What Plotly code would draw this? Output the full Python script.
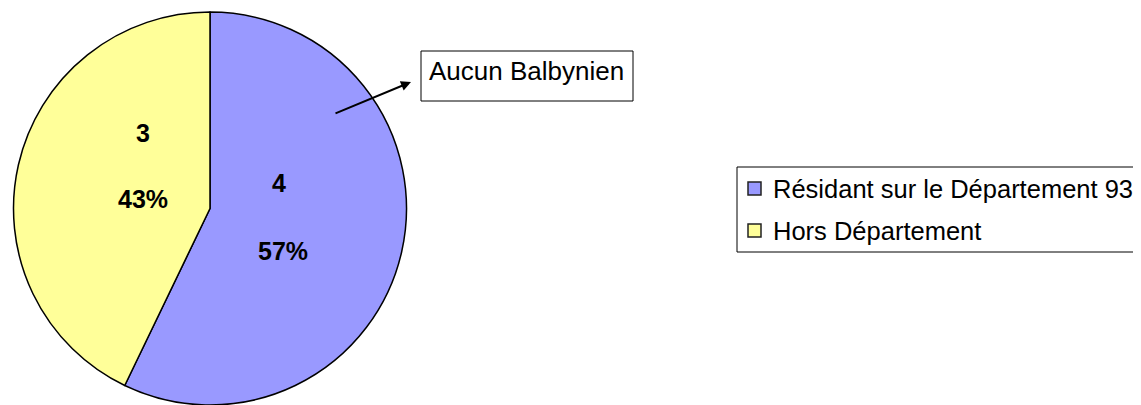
import plotly.graph_objects as go

# data
labels = ["Résidant sur le Département 93", "Hors Département"]
values = [4, 3]
colors = ["#9999FF", "#FFFF99"]
callout_text = "Aucun Balbynien"

# the page body adds an 8px margin, so the figure is shrunk and shifted by that
OFF = 8
W, H = 1141 - OFF, 405 - OFF
FONT = "Liberation Sans, Arial, sans-serif"


def px(x, y):
    # screen pixel position -> paper coordinates
    return (x - OFF) / W, 1 - (y - OFF) / H


fig = go.Figure(
    go.Pie(
        labels=labels,
        values=values,
        marker=dict(colors=colors, line=dict(color="black", width=1.5)),
        sort=False,
        direction="clockwise",
        rotation=0,
        textinfo="none",
        hoverinfo="label+value+percent",
        showlegend=False,
        domain=dict(x=[(12 - OFF) / W, (408 - OFF) / W], y=[0, 1 - (12 - OFF) / H]),
    )
)

total = sum(values)
annotations = []
shapes = []

# slice labels: value on top, percentage below
label_pos = [((279, 183), (283, 251)), ((143, 133), (143, 199))]
for v, ((x1, y1), (x2, y2)) in zip(values, label_pos):
    for txt, (x, y) in ((str(v), (x1, y1)), (f"{round(100 * v / total)}%", (x2, y2))):
        ax_, ay_ = px(x, y)
        annotations.append(dict(
            x=ax_, y=ay_, xref="paper", yref="paper", text=f"<b>{txt}</b>",
            showarrow=False, font=dict(family=FONT, size=25, color="black"),
            xanchor="center", yanchor="middle",
        ))

# callout box with arrow
x0, y0 = px(421, 51)
x1, y1 = px(633, 101)
shapes.append(dict(type="rect", xref="paper", yref="paper", x0=x0, y0=y0, x1=x1, y1=y1,
                   line=dict(color="black", width=1), fillcolor="white"))
tx, ty = px(427, 71)
annotations.append(dict(x=tx, y=ty, xref="paper", yref="paper", text=callout_text,
                        showarrow=False, xanchor="left", yanchor="middle",
                        font=dict(family=FONT, size=26, color="black")))
hx, hy = px(411, 82)
annotations.append(dict(x=hx, y=hy, xref="paper", yref="paper", text="",
                        showarrow=True, ax=334 - 411, ay=114 - 82,
                        arrowhead=2, arrowsize=1, arrowwidth=2, arrowcolor="black",
                        standoff=0))

# legend drawn by hand so the spacing matches
lx0, ly0 = px(737, 167)
lx1, ly1 = px(1160, 252)
shapes.append(dict(type="rect", xref="paper", yref="paper", x0=lx0, y0=ly0, x1=lx1, y1=ly1,
                   line=dict(color="black", width=1), fillcolor="white"))
row_y = [189, 231]
for lab, col, ry in zip(labels, colors, row_y):
    sx0, sy0 = px(748, ry - 7)
    sx1, sy1 = px(761, ry + 6)
    shapes.append(dict(type="rect", xref="paper", yref="paper", x0=sx0, y0=sy0, x1=sx1, y1=sy1,
                       line=dict(color="#222222", width=1.5), fillcolor=col))
    tx, ty = px(771, ry)
    annotations.append(dict(x=tx, y=ty, xref="paper", yref="paper", text=lab,
                            showarrow=False, xanchor="left", yanchor="middle",
                            font=dict(family=FONT, size=25.5, color="black")))

fig.update_layout(
    width=W,
    height=H,
    margin=dict(l=0, r=0, t=0, b=0),
    paper_bgcolor="white",
    plot_bgcolor="white",
    showlegend=False,
    annotations=annotations,
    shapes=shapes,
)

fig.write_html("out.html")
